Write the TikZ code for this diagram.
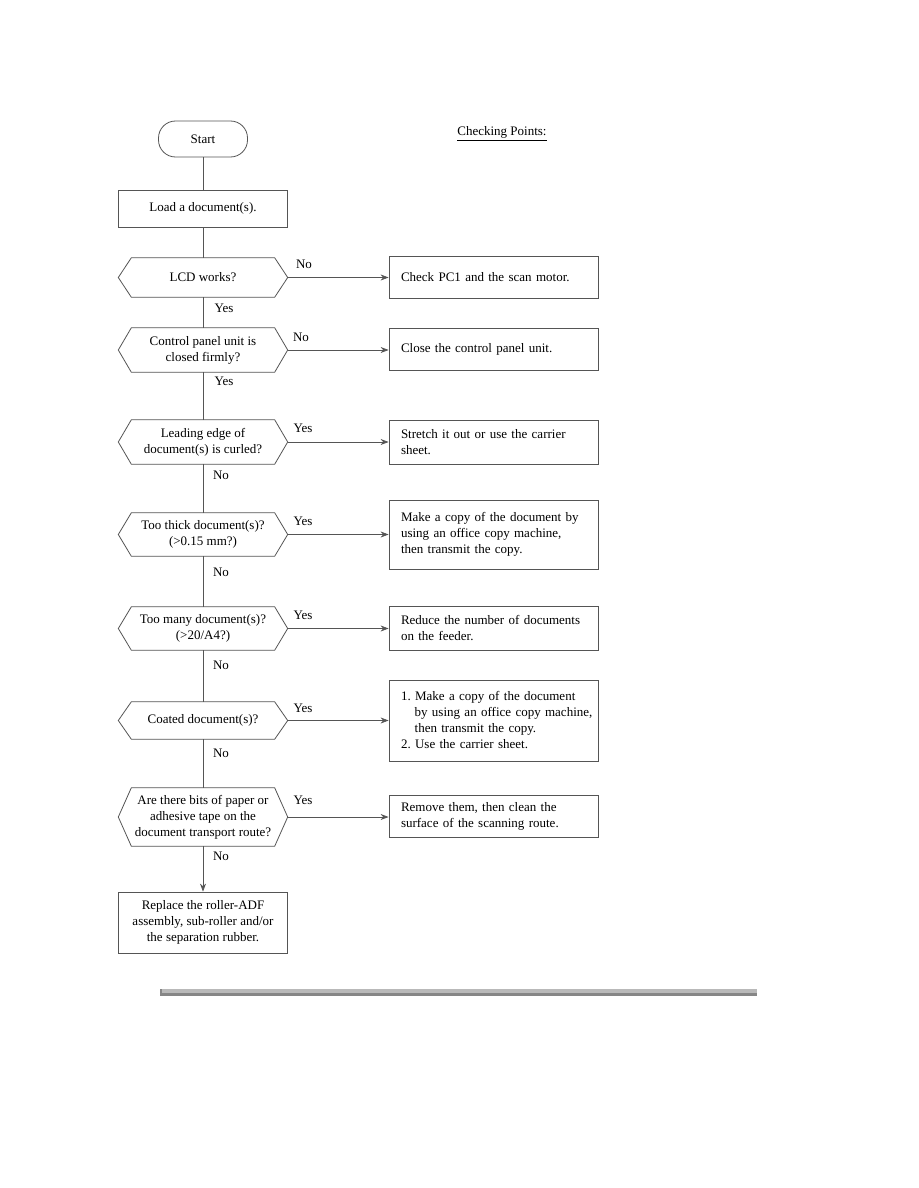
\documentclass[tikz,border=0pt]{standalone}
\usepackage{fontspec}
\setmainfont{Liberation Serif}
\usetikzlibrary{arrows.meta}
\definecolor{linec}{RGB}{85,85,85}
\tikzset{
  fc/.style={font=\fontsize{13}{16}\selectfont, text=black},
  flowline/.style={draw=linec, line width=0.8pt},
  arr/.style={flowline, -{Stealth[length=8pt,width=6pt]}},
  termbox/.style={fc, draw=linec, line width=0.8pt, rounded corners=17pt, minimum width=89pt, minimum height=36pt, inner sep=0pt},
  leftbox/.style={fc, draw=linec, line width=0.8pt, align=center, minimum width=169pt, minimum height=#1, inner sep=0pt},
  decision/.style={fc, align=center, minimum width=169pt, minimum height=#1, inner sep=0pt},
  rightbox/.style={fc, draw=linec, line width=0.8pt, align=left, text width=185pt, inner xsep=12pt, inner ysep=0pt, minimum height=#1},
  lbl/.style={fc, inner sep=0pt},
}
\newcommand\hexdraw[1]{\draw[flowline] (#1.west) -- ([xshift=13pt]#1.north west) -- ([xshift=-13pt]#1.north east) -- (#1.east) -- ([xshift=-13pt]#1.south east) -- ([xshift=13pt]#1.south west) -- cycle;}
\begin{document}
\begin{tikzpicture}[x=1pt,y=-1pt]
\useasboundingbox[fill=white] (0,0) rectangle (918,1188);

% left column
\node[termbox] (start) at (203,139) {Start};
\node[leftbox=37pt] (load) at (203,208.5) {Load a document(s).};
\node[decision=39pt] (d1) at (203,277.5) {LCD works?};
\node[decision=44pt] (d2) at (203,350) {Control panel unit is\\closed firmly?};
\node[decision=44pt] (d3) at (203,442) {Leading edge of\\document(s) is curled?};
\node[decision=43pt] (d4) at (203,534.5) {Too thick document(s)?\\(>0.15 mm?)};
\node[decision=43pt] (d5) at (203,628.5) {Too many document(s)?\\(>20/A4?)};
\node[decision=37pt] (d6) at (203,720.5) {Coated document(s)?};
\node[decision=58pt] (d7) at (203,817) {Are there bits of paper or\\adhesive tape on the\\document transport route?};
\node[leftbox=61pt] (fin) at (203,922.5) {Replace the roller-ADF\\assembly, sub-roller and/or\\the separation rubber.};
\foreach \n in {d1,d2,d3,d4,d5,d6,d7} {\hexdraw{\n}}

% right column
\node[rightbox=42pt] (r1) at (493.5,277) {Check PC1 and the scan motor.};
\node[rightbox=42pt] (r2) at (493.5,349) {Close the control panel unit.};
\node[rightbox=44pt] (r3) at (493.5,442) {Stretch it out or use the carrier\\sheet.};
\node[rightbox=69pt] (r4) at (493.5,534.5) {Make a copy of the document by\\using an office copy machine,\\then transmit the copy.};
\node[rightbox=44pt] (r5) at (493.5,628) {Reduce the number of documents\\on the feeder.};
\node[rightbox=81pt] (r6) at (493.5,720.5) {\mbox{1.~Make a copy of the document}\\\mbox{\hspace*{1.05em}by using an office copy machine,}\\\mbox{\hspace*{1.05em}then transmit the copy.}\\\mbox{2.~Use the carrier sheet.}};
\node[rightbox=42pt] (r7) at (493.5,816) {Remove them, then clean the\\surface of the scanning route.};

% trunk
\draw[flowline] (start) -- (load);
\draw[flowline] (load) -- (d1.north);
\draw[flowline] (d1.south) -- (d2.north);
\draw[flowline] (d2.south) -- (d3.north);
\draw[flowline] (d3.south) -- (d4.north);
\draw[flowline] (d4.south) -- (d5.north);
\draw[flowline] (d5.south) -- (d6.north);
\draw[flowline] (d6.south) -- (d7.north);
\draw[arr] (d7.south) -- (fin.north);

% branches
\foreach \d/\r in {d1/r1,d2/r2,d3/r3,d4/r4,d5/r5,d6/r6,d7/r7} {\draw[arr] (\d.east) -- (\d.east -| \r.west);}

% labels
\node[lbl] (n1) at (304,264) {No};
\node[lbl] (y1) at (224,308) {Yes};
\node[lbl] (n2) at (301,337) {No};
\node[lbl] (y2) at (224,381) {Yes};
\node[lbl] (y3) at (303,428) {Yes};
\node[lbl] (n3) at (221,475) {No};
\node[lbl] (y4) at (303,521) {Yes};
\node[lbl] (n4) at (221,572) {No};
\node[lbl] (y5) at (303,615) {Yes};
\node[lbl] (n5) at (221,665) {No};
\node[lbl] (y6) at (303,708) {Yes};
\node[lbl] (n6) at (221,753) {No};
\node[lbl] (y7) at (303,800) {Yes};
\node[lbl] (n7) at (221,856) {No};

% checking points
\node[lbl] (cp) at (502,132) {Checking Points:};
\draw[black, line width=0.6pt] (cp.south west) ++(0,2.5) -- ([yshift=-2.5pt]cp.south east);

% bottom rule
\fill[gray!55] (160,989) rectangle (757,993);
\fill[gray!95] (160,993) rectangle (757,995.5);
\fill[gray!95] (160,989) rectangle (162,995.5);
\end{tikzpicture}
\end{document}
